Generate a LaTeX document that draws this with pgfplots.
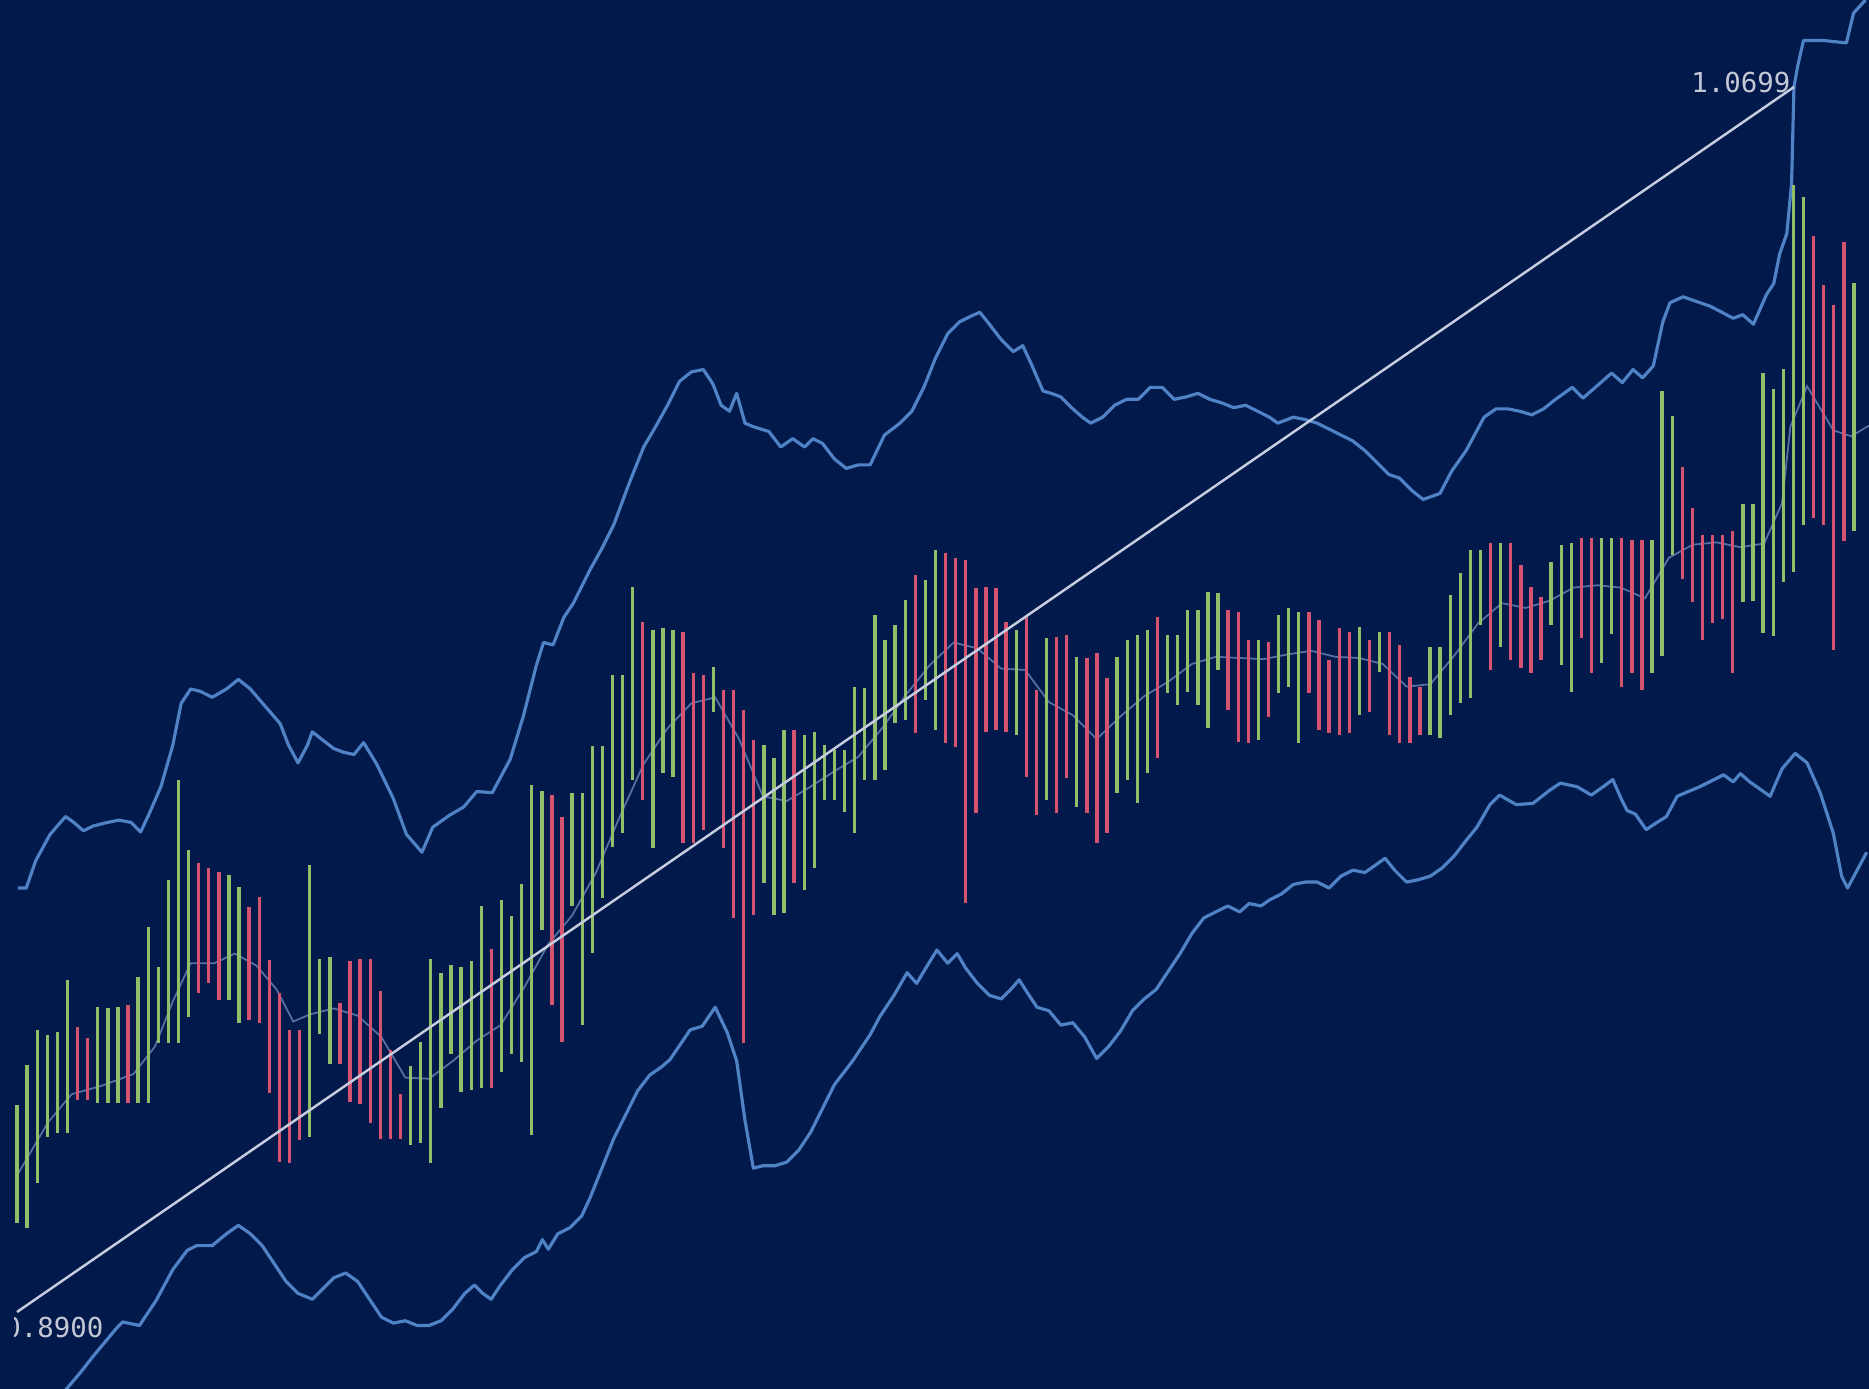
\documentclass[border=0pt]{standalone}
\usepackage{pgfplots}
\usepackage{pgfplotstable}
\pgfplotsset{compat=1.18}
\usepackage{fontspec}
\newfontfamily\labelfont{DejaVu Sans Mono}
\definecolor{bg}{RGB}{2,25,75}
\definecolor{band}{RGB}{80,130,198}
\definecolor{barG}{RGB}{145,190,105}
\definecolor{barR}{RGB}{212,84,112}
\definecolor{trend}{RGB}{198,205,222}
\definecolor{midc}{RGB}{140,172,218}
\definecolor{lbl}{RGB}{195,200,212}

% bars: i = bar index, top/bot = pixel rows of high and low
\pgfplotstableread{
i top bot
0 1105 1223
1 1065 1228
2 1030 1183
3 1035 1137
4 1032 1133
5 980 1133
8 1007 1103
9 1008 1103
10 1007 1103
12 977 1103
13 927 1103
14 967 1043
15 880 1043
16 780 1043
17 850 1017
21 875 1000
22 887 1023
29 865 1137
30 959 1034
31 957 1064
39 1066 1145
40 1042 1143
41 959 1163
42 973 1108
43 965 1054
44 967 1092
45 961 1090
46 906 1088
48 900 1072
49 916 1054
50 884 1062
51 785 1135
52 791 930
55 793 906
56 793 1025
57 746 953
58 746 898
59 675 847
60 675 833
61 587 780
63 630 848
64 628 773
65 630 777
69 667 712
74 745 883
75 758 915
76 730 913
78 735 890
79 732 868
80 745 800
81 750 800
82 750 812
83 687 833
84 688 780
85 615 780
86 640 770
87 625 723
88 600 720
90 580 700
91 550 730
99 630 735
102 638 800
105 657 807
109 657 793
110 640 780
111 635 803
112 630 773
114 635 693
115 635 705
116 610 692
117 610 705
118 592 728
119 593 670
123 640 740
125 615 693
126 608 687
127 612 743
133 627 715
135 632 672
140 647 735
141 647 738
142 595 715
143 573 703
144 550 698
145 550 625
147 543 647
152 562 625
153 545 665
154 543 692
157 538 663
158 538 634
162 540 673
163 391 656
164 416 555
171 504 602
172 504 601
173 373 633
174 389 636
175 369 582
176 185 572
177 197 525
182 283 531
}\greenbars

\pgfplotstableread{
i top bot
6 1027 1100
7 1038 1100
11 1005 1103
18 863 993
19 868 983
20 872 1000
23 907 1020
24 897 1023
25 960 1093
26 993 1162
27 1030 1163
28 1030 1140
32 1003 1064
33 961 1102
34 959 1104
35 959 1123
36 991 1139
37 1050 1139
38 1094 1139
47 949 1088
53 795 1005
54 817 1042
62 622 800
66 632 843
67 673 843
68 675 830
70 690 848
71 690 918
72 710 1043
73 740 915
77 730 883
89 575 733
92 553 743
93 558 747
94 560 903
95 588 813
96 587 732
97 588 730
98 622 732
100 615 777
101 690 815
103 637 813
104 635 778
106 658 813
107 653 843
108 678 833
113 617 758
120 610 710
121 612 742
122 640 743
124 642 717
128 612 693
129 620 730
130 660 733
131 628 735
132 632 733
134 640 712
136 632 735
137 645 743
138 677 743
139 687 735
146 543 670
148 543 660
149 565 668
150 587 673
151 597 660
155 538 638
156 538 673
159 538 687
160 540 673
161 540 690
165 467 579
166 508 602
167 535 640
168 535 623
169 535 619
170 531 673
178 236 518
179 285 525
180 305 650
181 242 541
}\redbars

\pgfplotstableread{
x y
15 745
22 745
30 722
42 700
55 685
62 690
70 697
78 693
90 690
100 688
110 690
118 698
125 683
135 660
145 625
152 590
160 578
168 580
178 585
190 578
200 570
210 578
222 592
235 607
242 625
250 640
258 625
262 614
271 621
280 628
288 631
297 633
305 623
316 641
330 670
341 700
354 715
363 694
377 684
389 677
400 664
413 665
428 637
439 601
450 558
456 539
464 541
473 518
481 506
495 478
505 460
515 440
528 405
540 375
550 358
560 340
570 320
580 312
590 310
598 322
605 340
612 345
618 330
625 355
632 358
645 362
655 375
665 368
675 375
682 368
690 372
700 385
710 393
720 390
730 390
742 365
755 355
765 345
775 325
785 300
795 280
805 270
815 265
822 262
830 272
840 285
850 295
858 290
865 305
875 328
882 330
890 333
900 343
908 350
915 355
925 350
935 340
945 335
955 335
965 325
975 325
985 335
995 333
1005 330
1015 335
1025 338
1035 342
1045 340
1055 345
1065 350
1072 355
1085 350
1095 352
1105 355
1115 360
1125 365
1135 370
1145 378
1155 388
1165 398
1174 401
1185 412
1194 419
1208 414
1218 395
1230 378
1245 350
1255 343
1265 343
1275 345
1285 348
1295 343
1305 335
1319 325
1328 334
1352 313
1361 321
1370 310
1378 317
1387 307
1395 270
1401 254
1412 249
1435 257
1454 267
1462 264
1471 272
1482 247
1488 238
1493 213
1499 196
1503 154
1505 73
1508 56
1513 34
1530 34
1549 36
1555 11
1565 0
}\upperband

\pgfplotstableread{
x y
50 1172
56 1165
67 1152
78 1138
98 1114
103 1109
117 1112
131 1091
145 1065
157 1049
165 1045
178 1045
190 1035
200 1028
210 1035
220 1045
230 1060
240 1075
250 1085
262 1090
270 1082
280 1072
290 1068
300 1075
310 1090
320 1105
330 1110
340 1108
350 1112
360 1112
370 1108
380 1098
390 1085
398 1078
405 1085
412 1090
420 1078
430 1065
440 1055
450 1050
455 1040
460 1048
468 1035
478 1030
488 1020
495 1005
505 980
515 955
525 935
535 915
545 902
555 895
562 889
579 864
589 861
600 845
610 866
618 890
625 940
632 980
640 978
650 978
660 975
670 965
680 950
690 930
700 910
710 897
716 889
730 868
738 853
750 835
761 816
769 825
778 810
786 797
795 808
803 800
810 812
820 825
830 835
840 838
848 830
855 822
862 833
870 845
880 848
890 860
900 858
910 870
920 888
930 878
940 865
950 848
960 838
970 830
980 815
990 800
1000 783
1010 770
1020 765
1030 760
1040 765
1048 758
1058 760
1065 755
1075 750
1085 742
1095 740
1105 740
1115 745
1125 735
1135 730
1145 732
1155 725
1162 720
1170 730
1180 740
1190 738
1200 735
1210 728
1220 718
1230 705
1239 694
1250 675
1258 667
1272 675
1286 674
1300 663
1309 657
1323 660
1335 667
1345 660
1353 654
1360 670
1365 680
1372 683
1381 696
1390 690
1398 685
1407 668
1426 660
1446 650
1454 656
1460 649
1468 656
1485 668
1495 645
1506 632
1516 640
1527 665
1538 699
1545 735
1550 745
1558 730
1566 715
}\lowerband

\pgfplotstableread{
x y
15 985
40 942
60 918
85 911
112 901
130 878
145 840
160 808
180 808
197 800
215 810
232 830
246 857
260 851
280 846
300 852
320 870
340 904
360 905
380 890
400 873
420 860
440 828
460 792
480 768
500 732
520 685
540 641
560 611
580 590
600 585
620 620
640 668
660 672
680 660
700 647
720 635
740 611
760 583
780 558
800 539
820 544
840 561
860 562
880 589
900 600
920 620
940 601
960 584
980 572
1000 557
1020 551
1040 552
1060 553
1080 549
1100 546
1120 551
1140 552
1160 557
1180 576
1200 574
1220 550
1240 523
1260 506
1280 510
1300 504
1320 493
1340 491
1360 493
1380 502
1400 468
1420 457
1440 455
1460 459
1480 456
1495 422
1502 358
1516 324
1538 361
1553 366
1568 357
}\midband

\begin{document}
\begin{tikzpicture}
\useasboundingbox (0,0) rectangle (18.69cm,13.89cm);
\clip (0,0) rectangle (18.69cm,13.89cm);
\fill[bg] (0,0) rectangle (18.69cm,13.89cm);
\begin{axis}[
  at={(0,0)}, anchor=south west,
  scale only axis, width=18.69cm, height=13.89cm,
  xmin=0, xmax=1869, ymin=0, ymax=1389,
  y dir=reverse, hide axis, clip=true,
]
% Bollinger bands
\addplot[band, line width=0.9pt, line join=round] table[x expr=1.192*\thisrow{x}, y expr=1.192*\thisrow{y}] {\upperband};
\addplot[band, line width=0.9pt, line join=round] table[x expr=1.192*\thisrow{x}, y expr=1.192*\thisrow{y}] {\lowerband};
% middle line (behind the bars)
\addplot[midc, line width=0.5pt, opacity=0.6] table[x expr=1.192*\thisrow{x}, y expr=1.192*\thisrow{y}] {\midband};
% high-low bars
\addplot[draw=none, mark=none, error bars/.cd, y dir=plus, y explicit, error mark=none,
  error bar style={draw=barG, solid, line width=0.95pt}]
  table[x expr=17+10.093*\thisrow{i}, y=top, y error expr=\thisrow{bot}-\thisrow{top}] {\greenbars};
\addplot[draw=none, mark=none, error bars/.cd, y dir=plus, y explicit, error mark=none,
  error bar style={draw=barR, solid, line width=0.95pt}]
  table[x expr=17+10.093*\thisrow{i}, y=top, y error expr=\thisrow{bot}-\thisrow{top}] {\redbars};
% trend line
\addplot[trend, line width=0.7pt] coordinates {(17,1312) (1794,87)};
\node[anchor=east, inner sep=0pt, text=lbl, font=\labelfont\fontsize{7.8}{8}\selectfont] at (axis cs:1791,83) {1.0699};
\coordinate (lblB) at (axis cs:104,1328);
\end{axis}
\begin{scope}
\clip (1.45mm,0) rectangle (18.69cm,13.89cm);
\node[anchor=east, inner sep=0pt, text=lbl, font=\labelfont\fontsize{7.8}{8}\selectfont] at (lblB) {0.8900};
\end{scope}
\end{tikzpicture}
\end{document}
